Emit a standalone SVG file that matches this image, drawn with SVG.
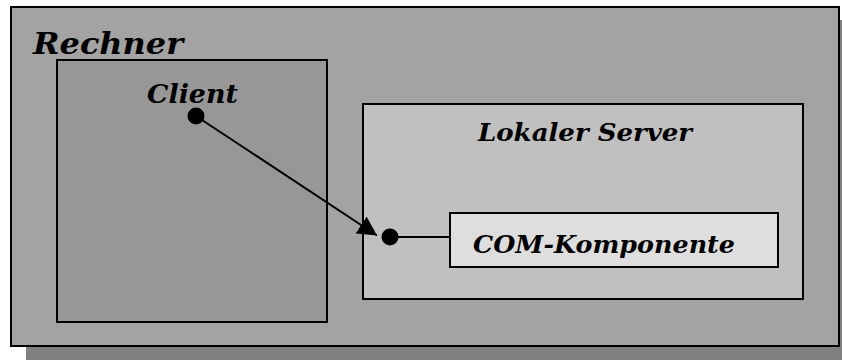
<svg xmlns="http://www.w3.org/2000/svg" width="842" height="360" viewBox="0 0 842 360">
  <style>
    .box { stroke: #000; stroke-width: 2; }
    .lbl { font-family: "DejaVu Serif", "Liberation Serif", serif; font-weight: bold; font-style: italic; fill: #000; }
    .wire { stroke: #000; stroke-width: 2; fill: none; }
  </style>
  <defs>
    <marker id="arrow" viewBox="0 0 20 20" refX="19" refY="10" markerWidth="20" markerHeight="20" markerUnits="userSpaceOnUse" orient="auto">
      <path d="M0,0 L19,10 L0,20 Z" fill="#000"/>
    </marker>
  </defs>
  <rect width="842" height="360" fill="#fff"/>

  <!-- Rechner (host machine) with drop shadow -->
  <g id="rechner">
    <rect x="26" y="20" width="820" height="345" fill="#808080"/>
    <rect class="box" x="11" y="7" width="828" height="339" fill="#a3a3a3"/>
    <text class="lbl" x="33" y="54" font-size="30" textLength="150" lengthAdjust="spacingAndGlyphs">Rechner</text>
  </g>

  <!-- Client process -->
  <g id="client">
    <rect class="box" x="57" y="60" width="270" height="262" fill="#979797"/>
    <text class="lbl" x="147" y="103" font-size="26" textLength="91" lengthAdjust="spacingAndGlyphs">Client</text>
    <circle cx="196" cy="116" r="8.5" fill="#000"/>
  </g>

  <!-- Local server process -->
  <g id="server">
    <rect class="box" x="363" y="104" width="440" height="195" fill="#c0c0c0"/>
    <text class="lbl" x="478" y="141" font-size="25" textLength="214" lengthAdjust="spacingAndGlyphs">Lokaler Server</text>
    <circle cx="390" cy="237" r="8.5" fill="#000"/>
  </g>

  <!-- COM component -->
  <g id="com">
    <rect class="box" x="450" y="213" width="328" height="54" fill="#dedede"/>
    <text class="lbl" x="473" y="253" font-size="25" textLength="262" lengthAdjust="spacingAndGlyphs">COM-Komponente</text>
  </g>

  <!-- connectors -->
  <g id="connectors">
    <line class="wire" x1="196" y1="116" x2="377" y2="235.5" marker-end="url(#arrow)"/>
    <line class="wire" x1="390" y1="237" x2="450" y2="237"/>
  </g>
</svg>
